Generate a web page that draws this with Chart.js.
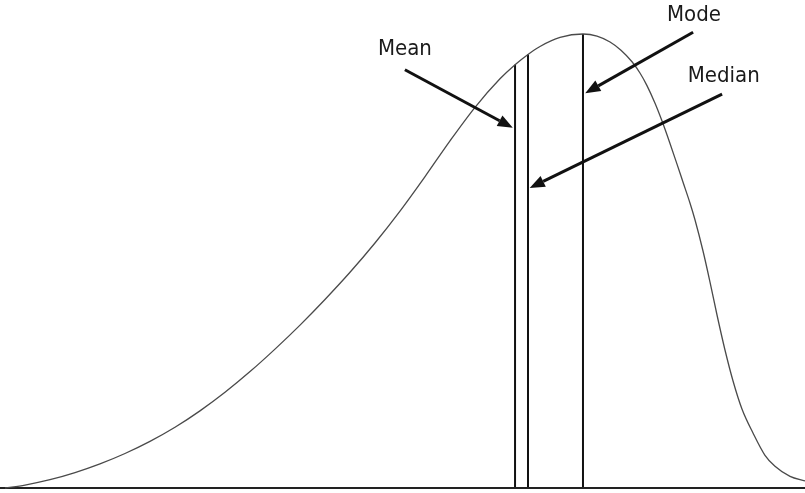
<!DOCTYPE html>
<html>
<head>
<meta charset="utf-8">
<style>
  html, body { margin: 0; padding: 0; background: #fff; }
  #wrap { width: 805px; height: 493px; }
</style>
<script src="https://cdn.jsdelivr.net/npm/chart.js@4.4.1/dist/chart.umd.min.js"></script>
</head>
<body>
<div id="wrap"><canvas id="chart" width="805" height="493"></canvas></div>
<script>
// Skewed distribution curve (x: score, y: frequency)
const curveX = [0.62, 3.11, 6.21, 9.32, 12.42, 15.53, 18.63, 21.74, 24.84, 27.95, 31.06, 34.16, 37.27, 40.37, 43.48, 46.58, 49.69, 52.80, 55.90, 59.01, 62.11, 63.98, 65.59, 67.08, 69.57, 72.42,
                74.16, 75.78, 77.14, 78.51, 79.50, 80.37, 81.37, 82.24, 83.23, 84.10, 84.84, 85.71, 86.34, 87.33, 88.20, 89.07, 90.06, 91.06, 92.17, 93.54, 95.03, 96.27, 98.14, 100];
const curveY = [0, 0.61, 1.70, 3.16, 4.94, 7.07, 9.55, 12.44, 15.80, 19.61, 23.85, 28.46, 33.38, 38.63, 44.20, 50.20, 56.74, 63.81, 71.13, 78.01, 83.85, 86.74, 88.85, 90.47, 92.32, 93.03,
                92.60, 91.39, 89.71, 87.34, 85.04, 82.46, 78.85, 75.20, 70.61, 66.37, 62.70, 58.40, 54.92, 48.57, 42.21, 35.45, 28.28, 21.93, 16.19, 11.27, 6.70, 4.45, 2.38, 1.45];

// Measures of centre
const measureNames = ['Mean', 'Median', 'Mode'];
const measureX = [63.98, 65.59, 72.42];
const measureY = [86.74, 88.85, 93.03];

// Label positions and arrows (start -> tip), in chart units
const labelX = [50.3, 89.9, 86.2];
const labelY = [89.9, 84.4, 96.9];
const arrowFromX = [50.3, 89.7, 86.1];
const arrowFromY = [85.7, 80.7, 93.4];
const arrowToX = [63.7, 65.8, 72.7];
const arrowToY = [73.8, 61.5, 80.9];

const datasets = [
    {
        data: curveX.map((x, i) => ({ x: x, y: curveY[i] })),
        borderColor: '#4a4a4a',
        borderWidth: 1.3,
        cubicInterpolationMode: 'monotone',
        pointRadius: 0
    },
    {
        data: [{ x: 0, y: 0 }, { x: 100, y: 0 }],
        borderColor: '#222',
        borderWidth: 2,
        pointRadius: 0
    }
];
measureX.forEach((x, i) => {
    datasets.push({
        data: [{ x: x, y: 0 }, { x: x, y: measureY[i] }],
        borderColor: '#111',
        borderWidth: 2,
        pointRadius: 0
    });
});

// Draws the arrows and the labels
const arrowPlugin = {
    id: 'arrows',
    afterDatasetsDraw(chart) {
        const ctx = chart.ctx;
        const xs = chart.scales.x;
        const ys = chart.scales.y;
        ctx.save();
        measureNames.forEach((name, i) => {
            const x1 = xs.getPixelForValue(arrowFromX[i]);
            const y1 = ys.getPixelForValue(arrowFromY[i]);
            const x2 = xs.getPixelForValue(arrowToX[i]);
            const y2 = ys.getPixelForValue(arrowToY[i]);
            const ang = Math.atan2(y2 - y1, x2 - x1);
            const head = 15;
            const bx = x2 - head * Math.cos(ang);
            const by = y2 - head * Math.sin(ang);
            ctx.strokeStyle = '#111';
            ctx.fillStyle = '#111';
            ctx.lineWidth = 3;
            ctx.beginPath();
            ctx.moveTo(x1, y1);
            ctx.lineTo(bx, by);
            ctx.stroke();
            ctx.beginPath();
            ctx.moveTo(x2, y2);
            ctx.lineTo(bx + 6 * Math.sin(ang), by - 6 * Math.cos(ang));
            ctx.lineTo(bx - 6 * Math.sin(ang), by + 6 * Math.cos(ang));
            ctx.closePath();
            ctx.fill();

            ctx.fillStyle = '#1a1a1a';
            ctx.font = '22px "Liberation Sans Narrow", "DejaVu Sans Condensed", sans-serif';
            ctx.textAlign = 'center';
            ctx.textBaseline = 'middle';
            ctx.fillText(name, xs.getPixelForValue(labelX[i]), ys.getPixelForValue(labelY[i]));
        });
        ctx.restore();
    }
};

new Chart(document.getElementById('chart'), {
    type: 'line',
    data: { datasets: datasets },
    options: {
        responsive: false,
        animation: false,
        clip: false,
        layout: { padding: { left: 0, right: 0, top: 0, bottom: 5 } },
        plugins: { legend: { display: false }, tooltip: { enabled: false } },
        scales: {
            x: { type: 'linear', min: 0, max: 100, display: false },
            y: { min: 0, max: 100, display: false }
        }
    },
    plugins: [arrowPlugin]
});
</script>
</body>
</html>
